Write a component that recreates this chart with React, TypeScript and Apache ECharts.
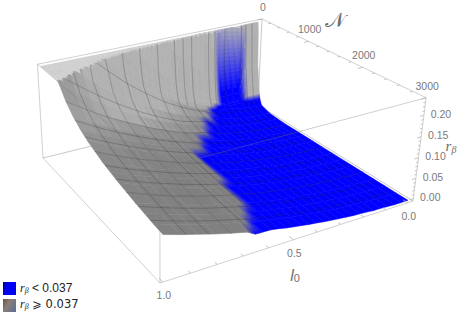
import React, { useEffect, useRef } from "react";
import * as echarts from "echarts";

// ---- data ----
const l0Steps = [0,1,2,3,4,5,6,7,8,9,10,11,12,13,14,15,16,17,18,19,20,21,22,24,26,28,30,32]; // l0 = step / 32
const nRows = [20,40,60,100,125,150,187.5,375,562.5,750,937.5,1125,1312.5,1500,1687.5,1875,2062.5,2250,2437.5,2625,2812.5,3000];

const rN20 = [.24,.24,.24,.24,.245,.25,.25,.36,.38,.4,.42,.445,.47,.5,.535,.57,.61,.645,.69,.73,.78,.83,.88,.99,1.11,1.24,1.38,1.53];
const rN40 = [.2,.2,.2,.065,.065,.065,.065,.191,.204,.219,.235,.252,.272,.293,.316,.34,.367,.394,.424,.455,.488,.523,.559,.637,.722,.813,.911,1.016];
const rN60 = [.12,.12,.12,.05,.05,.05,.05,.114,.124,.136,.149,.164,.179,.197,.215,.235,.257,.28,.304,.329,.356,.385,.414,.478,.547,.621,.701,.787];
const rN100 = [.07,.07,.072,.034,.034,.034,.034,.056,.064,.073,.084,.095,.107,.12,.135,.15,.167,.185,.203,.223,.244,.266,.289,.338,.392,.45,.512,.578];
const rN125 = [.04,.04,.041,.032,.032,.032,.033,.042,.049,.057,.066,.076,.087,.099,.112,.126,.141,.156,.173,.191,.209,.229,.25,.294,.341,.393,.449,.508];
const rN150 = [.024,.025,.026,.028,.028,.029,.03,.031,.038,.045,.054,.063,.073,.084,.096,.108,.122,.136,.151,.168,.185,.203,.221,.261,.305,.352,.403,.457];
const rN188 = [.012,.012,.014,.016,.019,.022,.026,.024,.03,.038,.044,.052,.061,.071,.082,.093,.105,.118,.132,.146,.161,.177,.194,.23,.269,.311,.357,.405];
const rN375 = [.003,.003,.004,.005,.007,.01,.013,.017,.021,.025,.037,.041,.046,.052,.058,.065,.074,.083,.093,.103,.114,.125,.137,.162,.19,.22,.252,.286];
const rN563 = [.001,.001,.002,.003,.005,.007,.009,.012,.015,.019,.024,.0355,.0385,.043,.047,.052,.059,.066,.074,.082,.091,.1,.11,.131,.154,.178,.204,.231];
const rN750 = [0,0,.001,.002,.003,.005,.007,.01,.013,.016,.02,.024,.03,.037,.04,.044,.05,.056,.063,.071,.078,.086,.095,.113,.132,.153,.176,.2];
const rN938 = [0,0,.001,.002,.003,.004,.006,.009,.011,.014,.017,.021,.025,.03,.034,.039,.045,.051,.057,.063,.07,.077,.085,.101,.118,.137,.157,.179];
const rN1125 = [0,0,.001,.001,.003,.004,.006,.008,.01,.013,.016,.019,.023,.027,.031,.036,.041,.046,.052,.057,.064,.07,.077,.092,.108,.125,.143,.163];
const rN1313 = [0,0,.001,.001,.002,.004,.005,.007,.009,.012,.015,.018,.021,.025,.029,.033,.036,.0365,.048,.053,.059,.065,.071,.085,.1,.116,.133,.151];
const rN1500 = [0,0,.001,.001,.002,.003,.005,.007,.009,.011,.014,.017,.02,.023,.027,.031,.035,.036,.045,.05,.055,.061,.067,.08,.093,.108,.124,.142];
const rN1688 = [0,0,.001,.001,.002,.003,.005,.006,.008,.011,.013,.016,.019,.022,.026,.029,.033,.0365,.042,.047,.052,.057,.063,.075,.088,.102,.117,.133];
const rN1875 = [0,0,0,.001,.002,.003,.004,.006,.008,.01,.012,.015,.018,.021,.024,.028,.032,.036,.04,.045,.049,.055,.06,.071,.084,.097,.111,.127];
const rN2063 = [0,0,0,.001,.002,.003,.004,.006,.008,.01,.012,.014,.017,.02,.023,.027,.03,.034,.0365,.043,.047,.052,.057,.068,.08,.092,.106,.121];
const rN2250 = [0,0,0,.001,.002,.003,.004,.006,.007,.009,.011,.014,.016,.019,.022,.025,.029,.033,.0365,.041,.045,.05,.055,.065,.076,.088,.102,.116];
const rN2438 = [0,0,0,.001,.002,.003,.004,.005,.007,.009,.011,.013,.016,.018,.021,.024,.028,.031,.035,.039,.043,.048,.052,.062,.073,.085,.098,.111];
const rN2625 = [0,0,0,.001,.002,.003,.004,.005,.007,.008,.01,.013,.015,.018,.02,.024,.027,.03,.034,.0365,.042,.046,.051,.06,.071,.082,.094,.107];
const rN2813 = [0,0,0,.001,.002,.003,.004,.005,.006,.008,.01,.012,.015,.017,.02,.023,.026,.029,.033,.036,.0365,.044,.049,.058,.068,.079,.091,.103];
const rN3000 = [0,0,0,.001,.002,.002,.004,.005,.006,.008,.01,.012,.014,.017,.019,.022,.025,.028,.032,.035,.036,.0365,.047,.056,.066,.077,.088,.1];
const zRows = [rN20,rN40,rN60,rN100,rN125,rN150,rN188,rN375,rN563,rN750,rN938,rN1125,rN1313,rN1500,rN1688,rN1875,rN2063,rN2250,rN2438,rN2625,rN2813,rN3000];

const threshold = 0.037;
const zClip = 0.235;
const blueWallSteps = [3,4,5,6];   // columns whose wall is coloured blue although it is steep
const blueWallRows = [40,60];
const meshL0 = [1,2,3,4,5,6,7,8,9,10,11].map(k=>k/12);
const meshN = [250,500,750,1000,1250,1500,1750,2000,2250,2500,2750];
const wallCreaseSteps = [1,2,7,12];

const nTicks = [0,1000,2000,3000];
const nMinor = [200,400,600,800,1200,1400,1600,1800,2200,2400,2600,2800];
const l0Ticks = [0,0.5,1];
const l0Minor = [.1,.2,.3,.4,.6,.7,.8,.9];
const zTicks = [0,.05,.1,.15,.2];
const zMinor = [.01,.02,.03,.04,.06,.07,.08,.09,.11,.12,.13,.14,.16,.17,.18,.19,.21,.22,.23];

// ---- perspective of the box ----
const O = [258,105], U = [43,158], V = [413,201], W = [262,19];
const wu = 0.8976, wv = 0.8024, wz = 0.96;
function proj(u:number,v:number,w:number):[number,number]{
  const d = 1+u*(wu-1)+v*(wv-1)+w*(wz-1);
  const x = O[0]+u*(wu*U[0]-O[0])+v*(wv*V[0]-O[0])+w*(wz*W[0]-O[0]);
  const y = O[1]+u*(wu*U[1]-O[1])+v*(wv*V[1]-O[1])+w*(wz*W[1]-O[1]);
  return [x/d,y/d];
}
const uOf = (l:number)=>0.024+0.966*l;
const vOf = (n:number)=>n/3000;
const wOf = (z:number)=>(z+0.006)/0.246;
const pt = (l:number,n:number,z:number)=>proj(uOf(l),vOf(n),wOf(z));

const isBlue = (i:number,j:number)=>{
  if (blueWallSteps.includes(l0Steps[i]) && blueWallRows.includes(nRows[j])) return 1;
  return zRows[j][i] < threshold ? 1 : 0;
};

function cellGray(i:number,j:number){
  const cl=(z:number)=>Math.min(z,zClip);
  const z=zRows;
  const j0=Math.max(0,j-2),j1=Math.min(nRows.length-1,j+3);
  const a=(cl(z[j0][i])+cl(z[j0][i+1]))/2,b=(cl(z[j1][i])+cl(z[j1][i+1]))/2;
  const s=Math.abs(b-a)/0.246/(vOf(nRows[j1])-vOf(nRows[j0]));
  return 128+30*Math.max(0,Math.min(1.6,s-0.2));
}
const capGray=207;
const mix=(g:number,t:number)=>`rgb(${Math.round(g*(1-t))},${Math.round(g*(1-t))},${Math.round(g*(1-t)+255*t)})`;

const cellData:number[][]=[];
for(let i=0;i<l0Steps.length-1;i++)for(let j=0;j<nRows.length-1;j++)cellData.push([i,j]);

// values along a mesh line
function zAtL(j:number,l:number){
  const s=l*32;
  let i=0;while(i<l0Steps.length-2&&l0Steps[i+1]<s)i++;
  const t=(s-l0Steps[i])/(l0Steps[i+1]-l0Steps[i]);
  return zRows[j][i]*(1-t)+zRows[j][i+1]*t;
}
function zAtN(i:number,n:number){
  let j=0;while(j<nRows.length-2&&nRows[j+1]<n)j++;
  const t=(n-nRows[j])/(nRows[j+1]-nRows[j]);
  return zRows[j][i]*(1-t)+zRows[j+1][i]*t;
}

const meshLines:[number,number][][]=[];
function addMesh(points:{l:number,n:number,z:number}[]){
  let run:[number,number][]=[];
  const flush=()=>{if(run.length>1)meshLines.push(run);run=[];};
  for(let s=0;s<points.length-1;s++){
    const a=points[s],b=points[s+1];
    if(a.z>=zClip&&b.z>=zClip){flush();continue;}
    const cross=(t:number)=>pt(a.l+(b.l-a.l)*t,a.n+(b.n-a.n)*t,zClip);
    if(a.z>=zClip){
      flush();
      run.push(cross((zClip-a.z)/(b.z-a.z)));
      run.push(pt(b.l,b.n,b.z));
    }else if(b.z>=zClip){
      if(!run.length)run.push(pt(a.l,a.n,a.z));
      run.push(cross((zClip-a.z)/(b.z-a.z)));
      flush();
    }else{
      if(!run.length)run.push(pt(a.l,a.n,a.z));
      run.push(pt(b.l,b.n,b.z));
    }
  }
  flush();
}
meshL0.forEach(l=>addMesh(nRows.map((n,j)=>({l,n,z:zAtL(j,l)}))));
meshN.forEach(n=>addMesh(l0Steps.map((k,i)=>({l:k/32,n,z:zAtN(i,n)}))));
wallCreaseSteps.forEach(k=>{
  const i=l0Steps.indexOf(k);
  addMesh(nRows.slice(0,7).map((n,j)=>({l:k/32,n,z:zRows[j][i]})));
});

// box edges
const c=(a:number,b:number,d:number)=>proj(a,b,d);
const backEdges=[[c(0,0,0),c(1,0,0)],[c(0,0,0),c(0,1,0)],[c(0,0,0),c(0,0,1)]];
const frontEdges=[
  [c(1,0,0),c(1,1,0)],[c(1,1,0),c(0,1,0)],
  [c(0,0,1),c(1,0,1)],[c(0,0,1),c(0,1,1)],[c(1,0,1),c(1,1,1)],[c(0,1,1),c(1,1,1)],
  [c(1,0,0),c(1,0,1)],[c(1,1,0),c(1,1,1)],[c(0,1,0),c(0,1,1)],
];
const tickSegs:[number,number][][]=[];
const addTick=(a:[number,number,number],b:[number,number,number])=>tickSegs.push([proj(...a),proj(...b)]);
nTicks.forEach(n=>addTick([0,vOf(n),1],[0.022,vOf(n),1]));
nMinor.forEach(n=>addTick([0,vOf(n),1],[0.012,vOf(n),1]));
l0Ticks.forEach(l=>addTick([uOf(l),1,0],[uOf(l),0.975,0]));
l0Minor.forEach(l=>addTick([uOf(l),1,0],[uOf(l),0.985,0]));
zTicks.forEach(z=>addTick([0,1,wOf(z)],[0.018,1,wOf(z)]));
zMinor.forEach(z=>addTick([0,1,wOf(z)],[0.009,1,wOf(z)]));

const lineSeries=(segs:[number,number][][],stroke:string,width:number,z:number)=>({
  type:"custom",coordinateSystem:"cartesian2d",clip:false,silent:true,z,
  data:segs.map((_,i)=>[i,0]),
  renderItem:(_:any,api:any)=>({
    type:"polyline",
    shape:{points:segs[api.value(0)].map(p=>api.coord(p))},
    style:{stroke,lineWidth:width,fill:"none"},
  }),
});

const surfaceSeries={
  type:"custom",coordinateSystem:"cartesian2d",clip:false,silent:true,z:3,
  data:cellData,
  renderItem:(_:any,api:any)=>{
    const i=api.value(0),j=api.value(1);
    const l0=l0Steps[i]/32,l1=l0Steps[i+1]/32,n0=nRows[j],n1=nRows[j+1];
    const z00=zRows[j][i],z10=zRows[j][i+1],z01=zRows[j+1][i],z11=zRows[j+1][i+1];
    const b00=isBlue(i,j),b10=isBlue(i+1,j),b01=isBlue(i,j+1),b11=isBlue(i+1,j+1);
    const g=cellGray(i,j);
    const zAt=(s:number,t:number)=>z00*(1-s)*(1-t)+z10*s*(1-t)+z01*(1-s)*t+z11*s*t;
    const at=(s:number,t:number)=>api.coord(pt(l0+(l1-l0)*s,n0+(n1-n0)*t,Math.min(zClip,zAt(s,t))));
    const sum=b00+b10+b01+b11;
    const zMin=Math.min(z00,z10,z01,z11),zMax=Math.max(z00,z10,z01,z11);
    const crosses=zMin<zClip&&zMax>=zClip;
    if((sum===0||sum===4)&&!crosses){
      const col=sum===4?"rgb(0,0,255)":mix(zMin>=zClip?capGray:g,0);
      return {type:"polygon",shape:{points:[at(0,0),at(1,0),at(1,1),at(0,1)]},style:{fill:col,stroke:col,lineWidth:0.5}};
    }
    const ma=j<=5?5:6,mb=j<=5?16:6,children:any[]=[];
    for(let a=0;a<ma;a++)for(let b=0;b<mb;b++){
      const s=(a+.5)/ma,tt=(b+.5)/mb;
      const f=b00*(1-s)*(1-tt)+b10*s*(1-tt)+b01*(1-s)*tt+b11*s*tt;
      const col=mix(zAt(s,tt)>=zClip?capGray:g,f);
      children.push({type:"polygon",shape:{points:[at(a/ma,b/mb),at((a+1)/ma,b/mb),at((a+1)/ma,(b+1)/mb),at(a/ma,(b+1)/mb)]},style:{fill:col,stroke:col,lineWidth:0.5}});
    }
    return {type:"group",children};
  },
};

const tickFont='"Liberation Sans", Arial, sans-serif';
const label=(text:string,p:[number,number],dx:number,dy:number)=>({
  type:"text",x:p[0]+dx,y:p[1]+dy,z:20,silent:true,
  style:{text,fill:"#7a7a7a",font:`10.5px ${tickFont}`,align:"center",verticalAlign:"middle"},
});
const fmt2=(z:number)=>z.toFixed(2);
const graphics:any[]=[
  ...nTicks.map(n=>label(String(n),proj(0,vOf(n),1),1,-12)),
  ...l0Ticks.map(l=>label(l.toFixed(1),proj(uOf(l),1,0),1,13)),
  ...zTicks.map(z=>label(fmt2(z),proj(0,1,wOf(z)),17,-1.5)),
  {type:"text",x:335,y:20,silent:true,style:{text:"𝒩",fill:"#6e6e6e",font:'21px "DejaVu Sans", serif',align:"center",verticalAlign:"middle"}},
  {type:"text",x:451,y:146,silent:true,style:{
    text:"{r|r}{s|β}",fill:"#6e6e6e",align:"center",verticalAlign:"middle",
    rich:{r:{font:`italic 15px "Liberation Serif", serif`,fill:"#6e6e6e",lineHeight:12},s:{font:`italic 10px "Liberation Serif", serif`,fill:"#6e6e6e",lineHeight:10,padding:[6,0,0,0]}},
  }},
  {type:"text",x:295,y:275,silent:true,style:{
    text:"{r|l}{s|0}",fill:"#6e6e6e",align:"center",verticalAlign:"middle",
    rich:{r:{font:`italic 16px "Liberation Sans", sans-serif`,fill:"#6e6e6e"},s:{font:`11px "Liberation Sans", sans-serif`,fill:"#6e6e6e",padding:[6,0,0,0]}},
  }},
  {type:"rect",shape:{x:3,y:282,width:13,height:13},silent:true,style:{fill:new echarts.graphic.LinearGradient(0,0,1,0.25,[{offset:0,color:"#000070"},{offset:.3,color:"#0000e6"},{offset:.6,color:"#0000ff"},{offset:1,color:"#0000f0"}])}},
  {type:"rect",shape:{x:3,y:299,width:13,height:13},silent:true,style:{fill:new echarts.graphic.LinearGradient(0,0,1,0.6,[{offset:0,color:"#6e4e44"},{offset:.45,color:"#8a8078"},{offset:1,color:"#66708c"}])}},
  {type:"text",x:20,y:288,silent:true,style:{
    text:"{r|r}{s|β}{t| < 0.037}",verticalAlign:"middle",
    rich:{r:{font:`italic 12px "Liberation Serif", serif`,fill:"#222"},s:{font:`italic 8px "Liberation Serif", serif`,fill:"#222",padding:[4,0,0,0]},t:{font:`12px ${tickFont}`,fill:"#222"}},
  }},
  {type:"text",x:20,y:304,silent:true,style:{
    text:"{r|r}{s|β}{t| ⩾ 0.037}",verticalAlign:"middle",
    rich:{r:{font:`italic 12px "Liberation Serif", serif`,fill:"#222"},s:{font:`italic 8px "Liberation Serif", serif`,fill:"#222",padding:[4,0,0,0]},t:{font:`11.5px "DejaVu Sans", ${tickFont}`,fill:"#222"}},
  }},
];

export default function App(){
  const ref=useRef<HTMLDivElement>(null);
  useEffect(()=>{
    const chart=echarts.init(ref.current!,undefined,{renderer:"svg"});
    chart.setOption({
      animation:false,
      backgroundColor:"#fff",
      grid:{left:0,top:0,right:0,bottom:0},
      xAxis:{type:"value",min:0,max:458,show:false},
      yAxis:{type:"value",min:0,max:318,inverse:true,show:false},
      series:[
        lineSeries(backEdges as any,"#c9c9c9",1,1),
        surfaceSeries,
        lineSeries(meshLines,"rgba(35,35,45,0.4)",0.6,5),
        lineSeries(frontEdges as any,"rgba(120,120,120,0.35)",1,6),
        lineSeries(tickSegs,"#b5b5b5",0.8,6),
      ],
      graphic:graphics,
    });
    return ()=>chart.dispose();
  },[]);
  return <div ref={ref} style={{width:458,height:318,position:"fixed",left:0,top:0}}/>;
}
